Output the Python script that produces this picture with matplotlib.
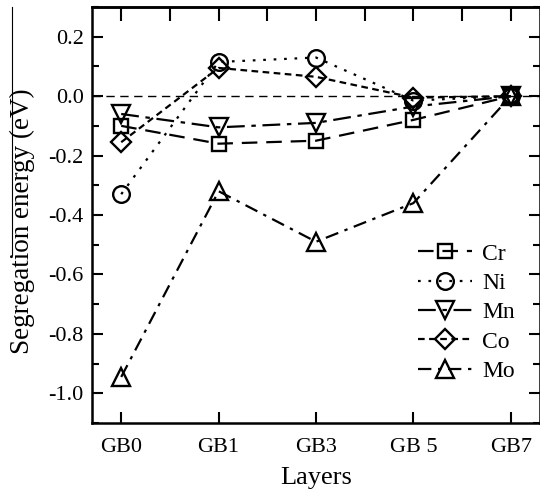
import matplotlib
matplotlib.use("Agg")
import matplotlib.pyplot as plt
from matplotlib.lines import Line2D
import numpy as np

layers = ["GB0", "GB1", "GB3", "GB 5", "GB7"]
cr = [-0.10, -0.16, -0.15, -0.08, 0.0]
ni = [-0.33, 0.115, 0.13, -0.015, 0.0]
mn = [-0.06, -0.105, -0.09, -0.035, 0.0]
co = [-0.155, 0.095, 0.065, -0.005, 0.0]
mo = [-0.945, -0.32, -0.49, -0.36, 0.0]

plt.rcParams['font.family'] = ['Liberation Serif', 'DejaVu Serif']
plt.rcParams['axes.unicode_minus'] = False

fig = plt.figure(figsize=(5.4, 4.9), dpi=100)
ax = fig.add_axes([92/540, 67/490, 448/540, 416/490])

x = np.arange(len(layers))
ax.axhline(0, color='black', lw=1.0, ls=(0, (6, 4)), zorder=1)

series = [
    ("Cr", cr, 's', (0, (7, 4)), 10),
    ("Ni", ni, 'o', (0, (1.2, 3.5)), 12),
    ("Mn", mn, 'v', (0, (8, 3, 2, 3)), 12.5),
    ("Co", co, 'D', (0, (3, 2)), 10),
    ("Mo", mo, '^', (0, (6, 3, 1.5, 3)), 12.5),
]
for name, vals, mk, ls, ms in series:
    ax.plot(x, vals, color='black', lw=1.6, ls=ls, marker=mk, ms=ms,
            mfc='none', mec='black', mew=1.7, label=name, zorder=3)

ax.set_xlim(-0.3, 4.3)
ax.set_ylim(-1.1, 0.3)
ax.set_xticks(x)
ax.set_xticklabels(layers)
ax.set_yticks([-1.0, -0.8, -0.6, -0.4, -0.2, 0.0, 0.2])
ax.set_yticklabels(["-1.0", "-0.8", "-0.6", "-0.4", "-0.2", "0.0", "0.2"])
ax.set_yticks(np.arange(-1.1, 0.31, 0.1), minor=True)

ax.tick_params(axis='both', which='major', direction='in', length=8, width=1.5,
               labelsize=16)
ax.tick_params(axis='y', which='both', right=True, direction='in')
ax.tick_params(axis='y', which='minor', length=5, width=1.5)
ax.tick_params(axis='x', which='major', pad=11)
ax.tick_params(axis='y', which='major', pad=6)

top = ax.secondary_xaxis('top')
top.set_xticks(np.arange(0, 4.01, 0.5))
top.tick_params(direction='in', length=10, width=1.5, labeltop=False)
top.spines['top'].set_linewidth(1.8)

for s in ax.spines.values():
    s.set_linewidth(1.8)

ax.set_xlabel("Layers", fontsize=19)
ax.set_ylabel("Segregation energy (eV)", fontsize=19.5)
ax.xaxis.set_label_coords(0.5, -0.132)
ax.yaxis.set_label_coords(-0.156, 0.486)
ax.xaxis.label.set_va('center')
ax.yaxis.label.set_va('center')

leg = ax.legend(loc='upper left', bbox_to_anchor=(0.707, 0.455), frameon=False,
                fontsize=17, handlelength=2.3, handletextpad=0.4,
                labelspacing=0.33, borderaxespad=0)

fig.add_artist(Line2D([12/540, 12/540], [1 - 7/490, 1 - 255/490],
                      color='black', lw=0.8, transform=fig.transFigure))

fig.savefig("out.png", dpi=100)
